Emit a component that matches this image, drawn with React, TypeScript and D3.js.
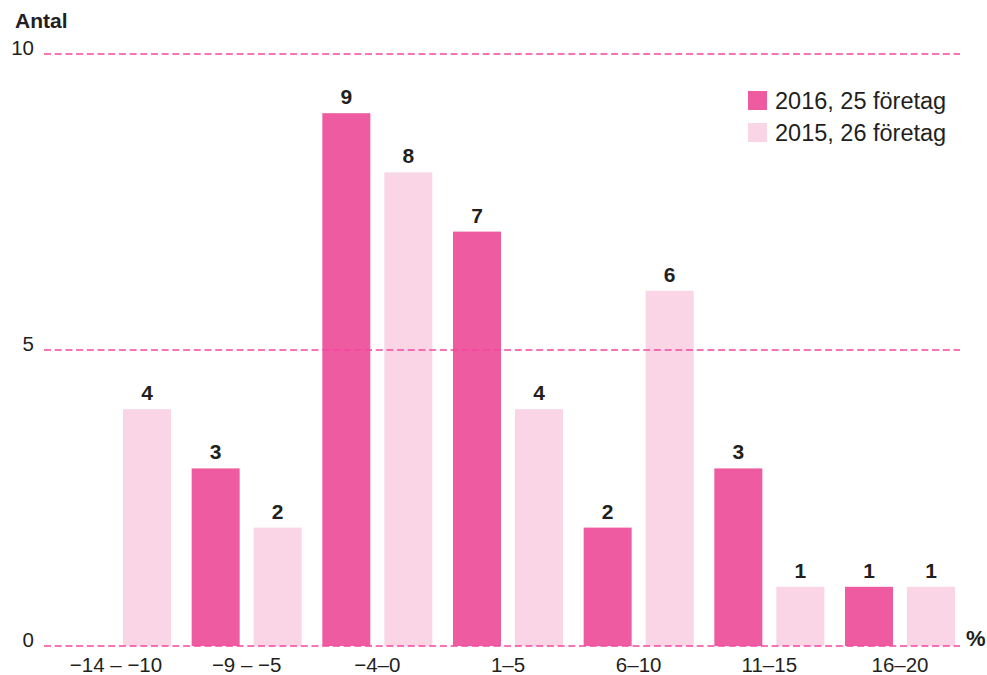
import React from "react";
import * as d3 from "d3";

const categories = ["−14 – −10", "−9 – −5", "−4–0", "1–5", "6–10", "11–15", "16–20"];
const seriesNames = ["2016, 25 företag", "2015, 26 företag"];
const values2016 = [0, 3, 9, 7, 2, 3, 1];
const values2015 = [4, 2, 8, 4, 6, 1, 1];
const yTicks = [0, 5, 10];

const colors = ["#EF5BA1", "#F9D5E6"];
const font = "'Liberation Sans', Arial, Helvetica, sans-serif";

export default function App() {
  const W = 987, H = 675;
  const y = d3.scaleLinear().domain([0, 10]).range([646, 54]);
  const x0 = d3.scaleBand<string>().domain(categories).range([50.67, 965.33]).padding(0);
  const x1 = d3
    .scaleBand<string>()
    .domain(seriesNames)
    .range([10.33, 120.33])
    .paddingInner(0.226)
    .paddingOuter(0);
  const series = [values2016, values2015];

  return (
    <svg width={W} height={H} style={{ position: "absolute", left: 0, top: 0 }} fontFamily={font}>
      <rect width={W} height={H} fill="#fff" />
      {yTicks.map((t) => (
        <g key={t}>
          <text x={34} y={y(t) + 1} textAnchor="end" fontSize={20.5} fill="#231f20">
            {t}
          </text>
        </g>
      ))}
      <text x={15} y={28} fontSize={21} fontWeight="bold" fill="#231f20">
        Antal
      </text>
      {categories.map((c, i) => (
        <g key={c} transform={`translate(${x0(c)},0)`}>
          {series.map((vals, s) => {
            const v = vals[i];
            const bx = x1(seriesNames[s])!;
            const bw = x1.bandwidth();
            return (
              <g key={s}>
                {v > 0 && (
                  <rect x={bx} y={y(v)} width={bw} height={y(0) - y(v)} fill={colors[s]} />
                )}
                {v > 0 && (
                  <text
                    x={bx + bw / 2}
                    y={y(v) - 9}
                    textAnchor="middle"
                    fontSize={21}
                    fontWeight="bold"
                    fill="#231f20"
                  >
                    {v}
                  </text>
                )}
              </g>
            );
          })}
          <text
            x={x0.bandwidth() / 2}
            y={672}
            textAnchor="middle"
            fontSize={20.5}
            fill="#231f20"
          >
            {c}
          </text>
        </g>
      ))}
      {yTicks.map((t) => (
        <line
          key={"g" + t}
          x1={44}
          x2={960}
          y1={y(t)}
          y2={y(t)}
          stroke="#F5489E"
          strokeWidth={1.3}
          strokeDasharray="7,3.7"
        />
      ))}
      <text x={966} y={646} fontSize={22} fontWeight="bold" fill="#231f20">
        %
      </text>
      {seriesNames.map((n, s) => (
        <g key={n} transform={`translate(748,${91 + s * 32})`}>
          <rect width={19} height={19} fill={colors[s]} />
          <text x={27} y={18} fontSize={23.5} fill="#231f20">
            {n}
          </text>
        </g>
      ))}
    </svg>
  );
}
